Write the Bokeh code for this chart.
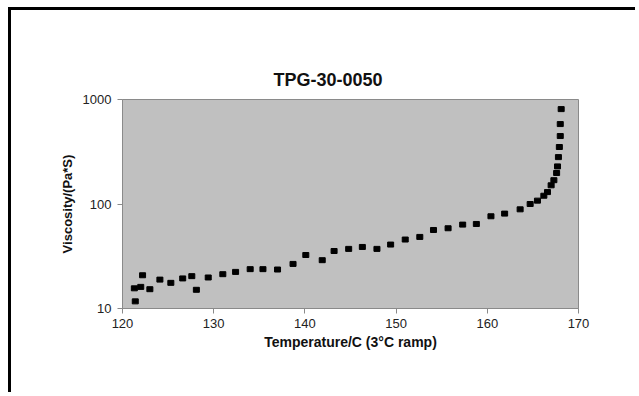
from bokeh.plotting import figure
from bokeh.models import FixedTicker, ColumnDataSource
from bokeh.embed import file_html
from bokeh.resources import INLINE

# Data
temperature = [121.3, 121.4, 122.0, 122.2, 123.0, 124.1, 125.3, 126.6, 127.6, 128.1,
               129.4, 131.0, 132.4, 134.0, 135.4, 137.0, 138.7, 140.1, 141.9, 143.2,
               144.8, 146.3, 147.9, 149.4, 151.0, 152.6, 154.1, 155.7, 157.3, 158.8,
               160.4, 161.9, 163.6, 164.7, 165.5, 166.2, 166.6, 167.0, 167.3, 167.6,
               167.7, 167.8, 167.9, 168.0, 168.0, 168.1]
viscosity = [15.6, 11.7, 16.1, 20.8, 15.3, 18.9, 17.6, 19.4, 20.4, 15.1,
             19.8, 21.3, 22.4, 23.8, 23.8, 23.6, 26.7, 32.5, 29.0, 35.5,
             37.2, 38.8, 37.2, 40.9, 45.7, 48.4, 56.4, 58.6, 63.5, 64.4,
             76.3, 80.9, 88.9, 100.0, 107.7, 120.0, 130.0, 151.0, 169.0, 198.0,
             229.0, 281.0, 351.0, 447.0, 582.0, 809.0]
x_ticks = [120, 130, 140, 150, 160, 170]
y_ticks = [10, 100, 1000]
y_tick_labels = {10: "10", 100: "100", 1000: "1000"}
title_text = "TPG-30-0050"
x_label = "Temperature/C (3°C ramp)"
y_label = "Viscosity/(Pa*S)"

FONT = "Liberation Sans"

p = figure(width=627, height=385, x_range=(120, 170), y_range=(10, 1000),
           y_axis_type="log", output_backend="svg", toolbar_location=None,
           min_border_left=111, min_border_right=60, min_border_top=89,
           min_border_bottom=87, title=title_text)
p.styles = {"border-top": "3px solid black", "border-left": "3px solid black",
            "margin-top": "7px", "margin-left": "8px"}

p.background_fill_color = "#c0c0c0"
p.border_fill_color = "white"
p.outline_line_color = "#8a8a8a"
p.outline_line_width = 1
p.xgrid.visible = False
p.ygrid.visible = False

p.title.align = "left"
p.title.offset = 151
p.title.standoff = 19
p.title.text_font = FONT
p.title.text_font_size = "18px"
p.title.text_font_style = "bold"
p.title.text_color = "#111111"

src = ColumnDataSource(dict(x=temperature, y=viscosity))
p.rect("x", "y", width=6, height=5, width_units="screen", height_units="screen",
       source=src, fill_color="black", line_color="black")

for ax in (p.xaxis[0], p.yaxis[0]):
    ax.axis_line_color = "#8a8a8a"
    ax.major_tick_line_color = "#8a8a8a"
    ax.minor_tick_line_color = None
    ax.major_tick_in = 0
    ax.major_tick_out = 5
    ax.major_label_text_font = FONT
    ax.major_label_text_font_size = "13px"
    ax.major_label_text_color = "#222222"
    ax.axis_label_text_font = FONT
    ax.axis_label_text_font_size = "13px"
    ax.axis_label_text_font_style = "bold"
    ax.axis_label_text_color = "#111111"

p.xaxis.axis_label_text_font_size = "14px"
p.xaxis.ticker = FixedTicker(ticks=x_ticks)
p.yaxis.ticker = FixedTicker(ticks=y_ticks)
p.yaxis.major_label_overrides = y_tick_labels
p.xaxis.axis_label = x_label
p.yaxis.axis_label = y_label
p.xaxis.major_label_standoff = 5
p.xaxis.axis_label_standoff = 3
p.yaxis.major_label_standoff = 6
p.yaxis.axis_label_standoff = 5

open("out.html", "w").write(file_html(p, INLINE))
